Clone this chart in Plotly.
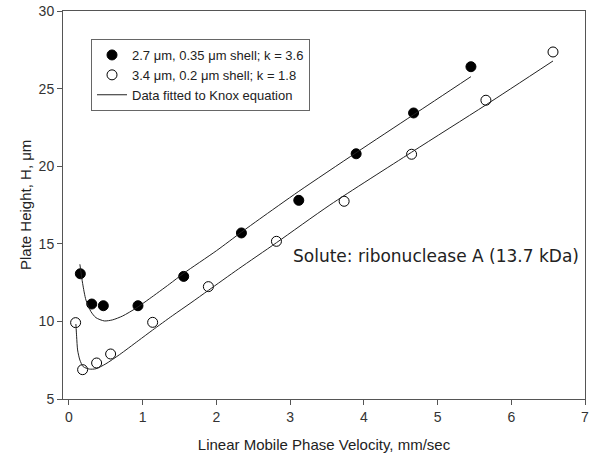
import plotly.graph_objects as go

# measured data, 2.7 um particles (filled)
u_filled = [0.155, 0.31, 0.467, 0.937, 1.557, 2.34, 3.118, 3.896, 4.675, 5.453]
h_filled = [13.07, 11.12, 11.01, 11.01, 12.9, 15.7, 17.8, 20.8, 23.43, 26.41]

# measured data, 3.4 um particles (open)
u_open = [0.091, 0.186, 0.376, 0.566, 1.136, 1.892, 2.815, 3.733, 4.648, 5.656, 6.566]
h_open = [9.92, 6.89, 7.32, 7.9, 9.94, 12.24, 15.16, 17.74, 20.77, 24.25, 27.36]

# Knox fit curves
u_fit_filled = [0.149, 0.186, 0.231, 0.299, 0.367, 0.48, 0.593, 0.729, 0.91, 1.09,
                1.363, 1.557, 2.0, 2.34, 2.588, 3.118, 3.896, 4.675, 5.453]
h_fit_filled = [13.68, 12.45, 11.38, 10.63, 10.24, 10.03, 10.1, 10.35, 10.85, 11.45,
                12.4, 13.1, 14.55, 15.75, 16.6, 18.38, 20.87, 23.32, 25.77]

u_fit_open = [0.095, 0.105, 0.118, 0.149, 0.195, 0.277, 0.367, 0.502, 0.684, 0.94,
              1.132, 1.408, 1.656, 1.892, 2.3, 2.815, 3.54, 4.648, 5.656, 6.566]
h_fit_open = [9.83, 9.01, 8.16, 7.51, 7.08, 6.93, 6.95, 7.27, 7.85, 8.75,
              9.43, 10.38, 11.2, 12.0, 13.38, 15.07, 17.5, 20.9, 23.95, 26.78]

x_ticks = [0, 1, 2, 3, 4, 5, 6, 7]
y_ticks = [5, 10, 15, 20, 25, 30]

fig = go.Figure()

fig.add_trace(go.Scatter(
    x=u_filled, y=h_filled, mode='markers',
    name='2.7 μm, 0.35 μm shell; k = 3.6',
    marker=dict(symbol='circle', size=10, color='black', line=dict(color='black', width=1))
))
fig.add_trace(go.Scatter(
    x=u_open, y=h_open, mode='markers',
    name='3.4 μm, 0.2 μm shell; k = 1.8',
    marker=dict(symbol='circle', size=10, color='white', line=dict(color='black', width=1))
))
fig.add_trace(go.Scatter(
    x=u_fit_filled, y=h_fit_filled, mode='lines',
    name='Data fitted to Knox equation',
    line=dict(color='#222222', width=1, shape='spline', smoothing=0.7)
))
fig.add_trace(go.Scatter(
    x=u_fit_open, y=h_fit_open, mode='lines', showlegend=False,
    line=dict(color='#222222', width=1, shape='spline', smoothing=0.7)
))

fig.add_annotation(
    x=(291 - 63) / 522, y=(399 - 256) / 388, xref='paper', yref='paper',
    xanchor='left', yanchor='middle', showarrow=False,
    text='Solute: ribonuclease A (13.7 kDa)',
    font=dict(family='DejaVu Sans', size=17, color='#222222')
)
# y axis title
fig.add_annotation(
    x=(25 - 63) / 522, y=0.5, xref='paper', yref='paper',
    xanchor='center', yanchor='middle', showarrow=False, textangle=-90,
    text='Plate Height, H, μm',
    font=dict(family='Liberation Sans, Arial', size=15, color='#222222')
)

axis_style = dict(
    showline=True, linecolor='#555555', linewidth=1, mirror=True,
    ticks='outside', ticklen=5, tickcolor='#555555', tickwidth=1,
    showgrid=False, zeroline=False, automargin=False,
    tickfont=dict(family='Liberation Sans, Arial', size=14, color='#333333'),
)

fig.update_xaxes(range=[-0.08, 7], tickvals=x_ticks,
                 title=dict(text='Linear Mobile Phase Velocity, mm/sec',
                            font=dict(family='Liberation Sans, Arial', size=15, color='#222222')),
                 **axis_style)
fig.update_yaxes(range=[5, 30], tickvals=y_ticks, **axis_style)

fig.update_layout(
    width=600, height=459,
    template='plotly_white',
    plot_bgcolor='white', paper_bgcolor='white',
    margin=dict(l=63, r=15, t=11, b=60),
    showlegend=True,
    legend=dict(
        x=(91 - 63) / 522, y=(399 - 39) / 388, xanchor='left', yanchor='top',
        bgcolor='white', bordercolor='#666666', borderwidth=1,
        font=dict(family='Liberation Sans, Arial', size=13, color='#222222'),
        itemwidth=30, tracegroupgap=0
    )
)

fig.write_html("out.html", config={'displayModeBar': False},
               post_script="document.body.style.margin='0';")
